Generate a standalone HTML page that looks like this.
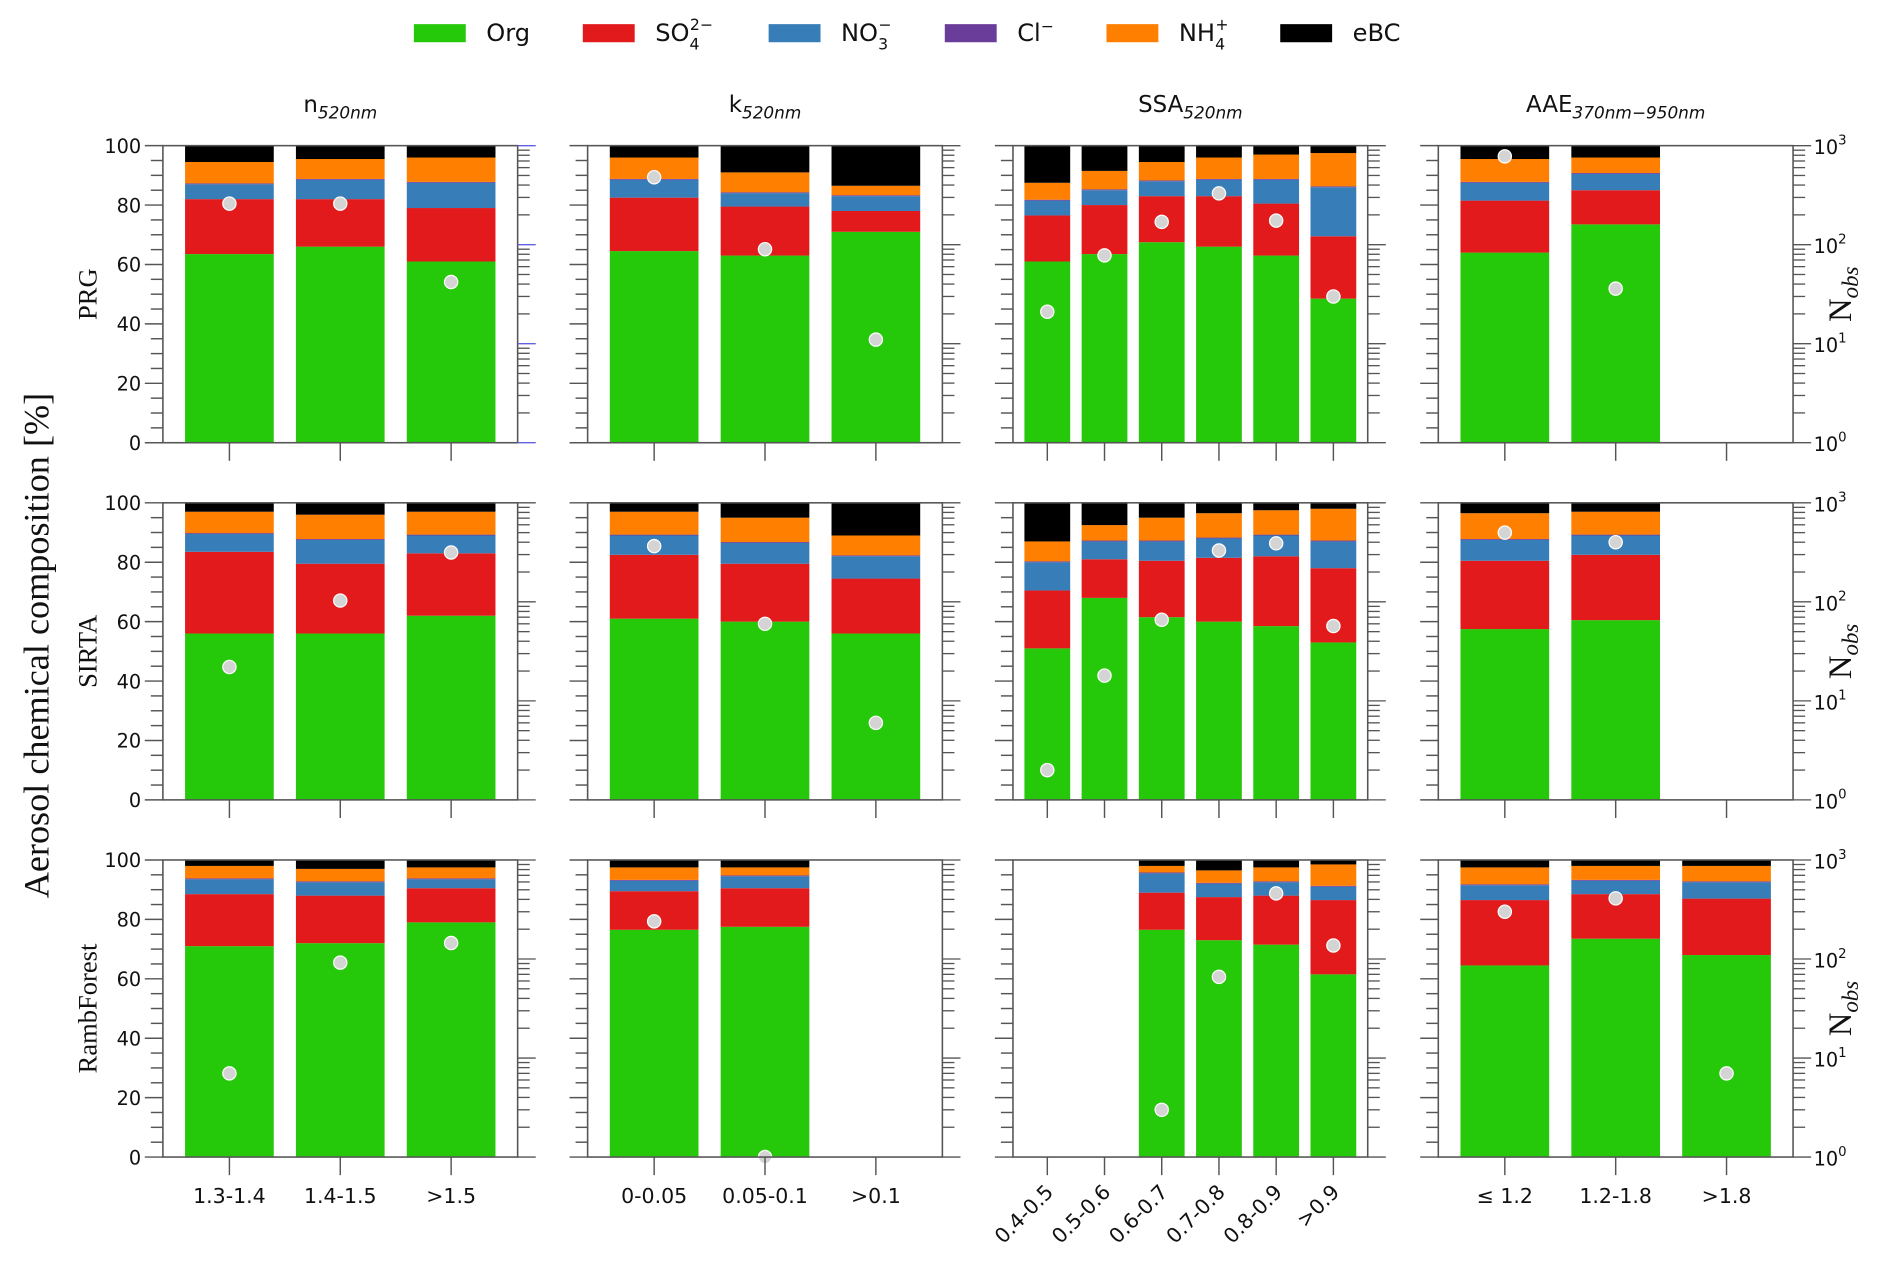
<!DOCTYPE html>
<html><head><meta charset="utf-8"><style>
html,body{margin:0;padding:0;background:#fff;}
svg{display:block;}
text{font-family:"DejaVu Sans","Liberation Sans",sans-serif;fill:#111;}
.serif{font-family:"Liberation Serif","DejaVu Serif",serif;}
</style></head><body>
<svg id="chart" xmlns="http://www.w3.org/2000/svg" width="1892" height="1270" viewBox="0 0 1568 1052.5">
<g id="legend"></g>
<g id="plots"></g>
</svg>
<script>
const NS = "http://www.w3.org/2000/svg";
const rowNames = ["PRG", "SIRTA", "RambForest"];
const colCategories = [
  ["1.3-1.4", "1.4-1.5", ">1.5"],
  ["0-0.05", "0.05-0.1", ">0.1"],
  ["0.4-0.5", "0.5-0.6", "0.6-0.7", "0.7-0.8", "0.8-0.9", ">0.9"],
  ["\u2264 1.2", "1.2-1.8", ">1.8"]
];
const speciesNames = ["Org", "SO4", "NO3", "Cl", "NH4", "eBC"];
const speciesColors = ["#26c90a", "#e31a1c", "#377eb8", "#6a3d9a", "#ff7f00", "#000000"];
// values [row][col][category]
const org = [
  [[63.5,66,61],[64.5,63,71],[61,63.5,67.5,66,63,48.5],[64,73.5,null]],
  [[56,56,62],[61,60,56],[51,68,61.5,60,58.5,53],[57.5,60.5,null]],
  [[71,72,79],[76.5,77.5,null],[null,null,76.5,73,71.5,61.5],[64.5,73.5,68]]
];
const so4 = [
  [[18.5,16,18],[18,16.5,7],[15.5,16.5,15.5,17,17.5,21],[17.5,11.5,null]],
  [[27.5,23.5,21],[21.5,19.5,18.5],[19.5,13,19,21.5,23.5,25],[23,22,null]],
  [[17.5,16,11.5],[13,13,null],[null,null,12.5,14.5,16.5,25],[22,15,19]]
];
const no3 = [
  [[5,6.5,8.5],[6,4.5,5],[5,5,5,5.5,8,16.5],[6,5.5,null]],
  [[6,8,6],[6.5,7,7.5],[9.5,6,6.5,6.5,7,9],[7,6.5,null]],
  [[5,4.5,3],[3.5,4,null],[null,null,6.5,4.5,4.5,4.5],[5,4.5,5.5]]
];
const cl = [
  [[0.3,0.3,0.3],[0.3,0.3,0.3],[0.3,0.3,0.3,0.3,0.3,0.3],[0.3,0.3,null]],
  [[0.3,0.3,0.3],[0.3,0.3,0.3],[0.3,0.3,0.3,0.3,0.3,0.3],[0.3,0.3,null]],
  [[0.3,0.3,0.3],[0.3,0.3,null],[null,null,0.3,0.3,0.3,0.3],[0.3,0.3,0.3]]
];
const nh4 = [
  [[7.2,6.7,8.2],[7.2,6.7,3.2],[5.7,6.2,6.2,7.2,8.2,11.2],[7.7,5.2,null]],
  [[7.2,8.2,7.7],[7.7,8.2,6.7],[6.7,5.2,7.7,8.2,8.2,10.7],[8.7,7.7,null]],
  [[4.2,4.2,3.7],[4.2,2.7,null],[null,null,2.2,4.2,4.7,7.2],[5.7,4.7,5.2]]
];
const ebc = [
  [[5.5,4.5,4],[4,9,13.5],[12.5,8.5,5.5,4,3,2.5],[4.5,4,null]],
  [[3,4,3],[3,5,11],[13,7.5,5,3.5,2.5,2],[3.5,3,null]],
  [[2,3,2.5],[2.5,2.5,null],[null,null,2,3.5,2.5,1.5],[2.5,2,2]]
];
const nObs = [
  [[260,260,42],[480,90,11],[21,78,170,330,175,30],[780,36,null]],
  [[22,103,315],[365,60,6],[2,18,66,330,390,57],[500,400,null]],
  [[7,92,145],[240,1,null],[null,null,3,66,460,137],[300,410,7]]
];
const yTicks = [0,20,40,60,80,100];
const logTickLabels = ["0","1","2","3"];

const colX = [135, 487, 839.5, 1192];
const panelW = 294;
const rowY = [120.7, 416.7, 712.7];
const panelH = 246.2;

function el(tag, attrs, parent){ const e=document.createElementNS(NS,tag); for(const k in attrs) e.setAttribute(k,attrs[k]); parent.appendChild(e); return e; }

const legend = document.getElementById("legend");
const legX = [343, 483, 637, 783, 917, 1061];
const legLabels = ["Org","SO<tspan font-size='13' dy='7'>4</tspan><tspan font-size='13' dx='-8' dy='-16'>2\u2212</tspan>","NO<tspan font-size='13' dy='7'>3</tspan><tspan font-size='13' dx='-8' dy='-16'>\u2212</tspan>","Cl<tspan font-size='13' dy='-8'>\u2212</tspan>","NH<tspan font-size='13' dy='7'>4</tspan><tspan font-size='13' dx='-8' dy='-16'>+</tspan>","eBC"];
for(let i=0;i<6;i++){
  const g=el("g",{},legend);
  
  
  el("rect",{x:legX[i],y:20,width:43,height:15,fill:speciesColors[i]},g);
  const t=el("text",{x:legX[i]+60,y:34,"font-size":20},g);
  t.innerHTML=legLabels[i];
}

const titles = [
  "n<tspan font-size='14' font-style='italic' dy='5'>520nm</tspan>",
  "k<tspan font-size='14' font-style='italic' dy='5'>520nm</tspan>",
  "SSA<tspan font-size='14' font-style='italic' dy='5'>520nm</tspan>",
  "AAE<tspan font-size='14' font-style='italic' dy='5'>370nm\u2212950nm</tspan>"
];

const plots = document.getElementById("plots");
const stacks = [org, so4, no3, cl, nh4, ebc];
for(let r=0;r<3;r++){
  for(let c=0;c<4;c++){
    const x0=colX[c], y0=rowY[r], cats=colCategories[c], n=cats.length;
    const unit = panelW/(n-1+1.2);
    const xS = i => x0 + (i+0.6)*unit;
    const yS = v => y0 + panelH*(1 - v/100);
    const yL = v => y0 + panelH*(1 - Math.log10(v)/3);
    const g = el("g",{},plots);
    
    
    for(let i=0;i<n;i++){
      if(org[r][c][i]==null) continue;
      let cum=0;
      for(let s=0;s<6;s++){
        const v=stacks[s][r][c][i];
        const b=el("rect",{x:xS(i)-0.4*unit,width:0.8*unit,y:yS(cum+v),height:yS(cum)-yS(cum+v),fill:speciesColors[s]},g);
        
        
        cum+=v;
      }
    }
    for(let i=0;i<n;i++){
      const v=nObs[r][c][i]; if(v==null) continue;
      const p=el("circle",{cx:xS(i),cy:yL(v),r:5.5,fill:"#d4d4d4",stroke:"#fff","stroke-width":1},g);
      
      
    }
    el("rect",{x:x0,y:y0,width:panelW,height:panelH,fill:"none",stroke:"#555","stroke-width":1.3},g);
    for(let v=0;v<=100;v+=5){
      const major = v%20===0;
      el("line",{x1:x0,x2:x0-(major?15:10),y1:yS(v),y2:yS(v),stroke:"#555","stroke-width":1.2},g);
    }
    if(c===0){
      yTicks.forEach(v=>{
        const t=el("text",{x:x0-18,y:yS(v)+6,"font-size":16,"text-anchor":"end"},g);
        t.textContent=v;
      });
    }
    for(let k=0;k<3;k++){
      for(let m=1;m<=9;m++){
        const v=Math.pow(10,k)*m;
        el("line",{x1:x0+panelW,x2:x0+panelW+(m===1?15:10),y1:yL(v),y2:yL(v),stroke:(r===0&&c===0&&m===1)?"#6060e0":"#555","stroke-width":1.1},g);
      }
    }
    el("line",{x1:x0+panelW,x2:x0+panelW+15,y1:yL(1000),y2:yL(1000),stroke:(r===0&&c===0)?"#6060e0":"#555","stroke-width":1.1},g);
    if(c===3){
      logTickLabels.forEach((lab,k)=>{
        const t=el("text",{x:x0+panelW+17,y:yL(Math.pow(10,+lab))+7,"font-size":16},g);
        t.innerHTML="10<tspan font-size='11' dy='-8'>"+lab+"</tspan>";
      });
      const yl=el("text",{x:0,y:0,"font-size":27,"text-anchor":"middle",transform:"translate(1534,"+(y0+panelH/2)+") rotate(-90)",class:"serif"},g);
      yl.innerHTML="N<tspan font-size='19' font-style='italic' dy='6'>obs</tspan>";
      
      
    }
    for(let i=0;i<n;i++){
      el("line",{x1:xS(i),x2:xS(i),y1:y0+panelH,y2:y0+panelH+15,stroke:"#555","stroke-width":1.2},g);
      if(r===2){
        if(c===2){
          const t=el("text",{x:0,y:0,"font-size":17,"text-anchor":"end",transform:"translate("+(xS(i)+6)+","+(y0+panelH+30)+") rotate(-45)"},g);
          t.textContent=cats[i];
        } else {
          const t=el("text",{x:xS(i),y:y0+panelH+38,"font-size":17,"text-anchor":"middle"},g);
          t.textContent=cats[i];
        }
      }
    }
    if(r===0){
      const t=el("text",{x:x0+panelW/2,y:93,"font-size":19,"text-anchor":"middle"},g);
      t.innerHTML=titles[c];
      
      
    }
    if(c===0){
      const t=el("text",{x:0,y:0,"font-size":22,"text-anchor":"middle",class:"serif",transform:"translate(80,"+(y0+panelH/2)+") rotate(-90)"},g);
      t.textContent=rowNames[r];
      
      
    }
  }
}
const yt=el("text",{x:0,y:0,"font-size":30,"text-anchor":"middle",class:"serif",transform:"translate(40,535) rotate(-90)"},plots);
yt.textContent="Aerosol chemical composition [%]";


</script>
</body></html>
